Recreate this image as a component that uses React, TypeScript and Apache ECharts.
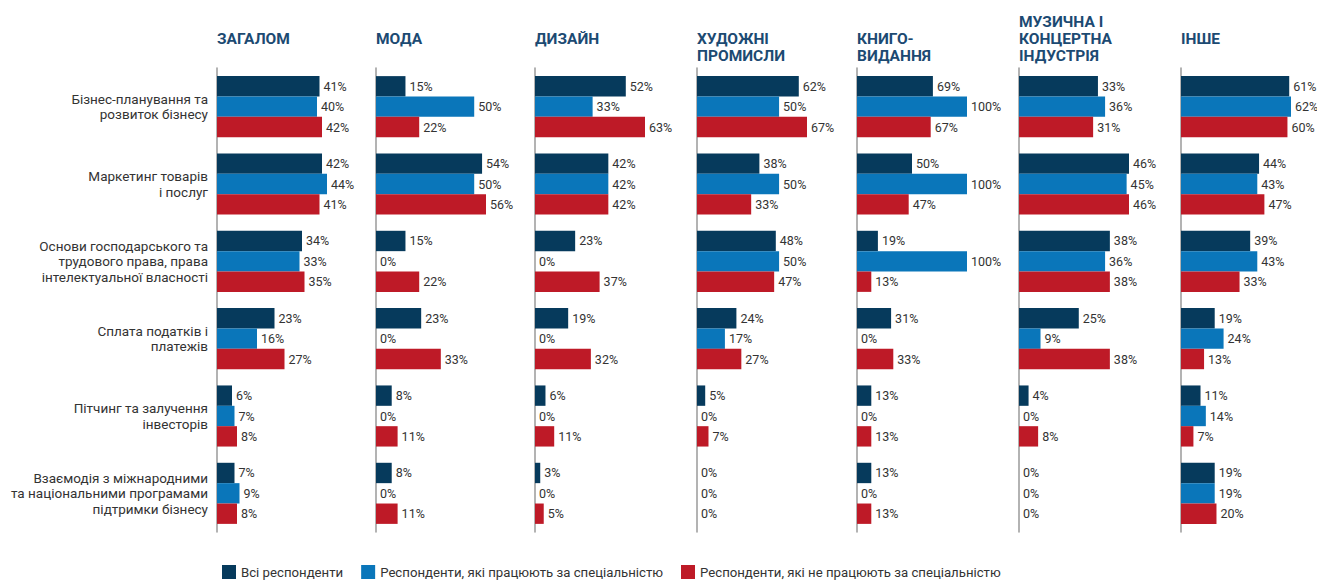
import React, { useEffect, useRef } from "react";
import * as echarts from "echarts";

const categories = [
  "Бізнес-планування та\nрозвиток бізнесу",
  "Маркетинг товарів\nі послуг",
  "Основи господарського та\nтрудового права, права\nінтелектуальної власності",
  "Сплата податків і\nплатежів",
  "Пітчинг та залучення\nінвесторів",
  "Взаємодія з міжнародними\nта національними програмами\nпідтримки бізнесу",
];

const seriesNames = [
  "Всі респонденти",
  "Респонденти, які працюють за спеціальністю",
  "Респонденти, які не працюють за спеціальністю",
];

const panelTitles = [
  "ЗАГАЛОМ",
  "МОДА",
  "ДИЗАЙН",
  "ХУДОЖНІ\nПРОМИСЛИ",
  "КНИГО-\nВИДАННЯ",
  "МУЗИЧНА І\nКОНЦЕРТНА\nІНДУСТРІЯ",
  "ІНШЕ",
];

const allResp = [
  [41, 42, 34, 23, 6, 7],
  [15, 54, 15, 23, 8, 8],
  [52, 42, 23, 19, 6, 3],
  [62, 38, 48, 24, 5, 0],
  [69, 50, 19, 31, 13, 13],
  [33, 46, 38, 25, 4, 0],
  [61, 44, 39, 19, 11, 19],
];
const specResp = [
  [40, 44, 33, 16, 7, 9],
  [50, 50, 0, 0, 0, 0],
  [33, 42, 0, 0, 0, 0],
  [50, 50, 50, 17, 0, 0],
  [100, 100, 100, 0, 0, 0],
  [36, 45, 36, 9, 0, 0],
  [62, 43, 43, 24, 14, 19],
];
const nonSpecResp = [
  [42, 41, 35, 27, 8, 8],
  [22, 56, 22, 33, 11, 11],
  [63, 42, 37, 32, 11, 5],
  [67, 33, 47, 27, 7, 0],
  [67, 47, 13, 33, 13, 13],
  [31, 46, 38, 38, 8, 0],
  [60, 47, 33, 13, 7, 20],
];

const colors = ["#063a5c", "#0a76ba", "#be1a27"];
const panelLeft = [217, 376, 535, 697, 857, 1019, 1181];
const FONT = "Roboto, 'Noto Sans', sans-serif";

export default function App() {
  const ref = useRef<HTMLDivElement>(null);
  useEffect(() => {
    if (!ref.current) return;
    const chart = echarts.init(ref.current, null, { renderer: "svg" });
    const grids: any[] = [];
    const xAxes: any[] = [];
    const yAxes: any[] = [];
    const series: any[] = [];
    const titles: any[] = [];
    const groups = [allResp, specResp, nonSpecResp];
    panelTitles.forEach((t, i) => {
      grids.push({ left: panelLeft[i], top: 68, width: 110, height: 464 });
      const mx = Math.max(...allResp[i], ...specResp[i], ...nonSpecResp[i]);
      xAxes.push({
        type: "value",
        gridIndex: i,
        min: 0,
        max: mx,
        show: false,
      });
      yAxes.push({
        type: "category",
        gridIndex: i,
        data: categories,
        inverse: true,
        axisLine: { show: true, lineStyle: { color: "#9a9a9a", width: 1.5 } },
        axisTick: { show: false },
        axisLabel: {
          show: i === 0,
          fontFamily: FONT,
          fontSize: 13.5,
          color: "#333",
          lineHeight: 15.5,
          margin: 9,
          align: "right",
        },
      });
      const lines = t.split("\n").length;
      titles.push({
        text: t,
        left: panelLeft[i],
        top: lines === 3 ? 13 : 30,
        padding: 0,
        textStyle: {
          fontFamily: FONT,
          fontWeight: "bold",
          fontSize: 15.5,
          lineHeight: 17,
          color: "#1c4a72",
        },
      });
      groups.forEach((g, s) => {
        series.push({
          type: "bar",
          name: seriesNames[s],
          xAxisIndex: i,
          yAxisIndex: i,
          data: g[i],
          barGap: "0%",
          barCategoryGap: "21%",
          itemStyle: { color: colors[s] },
          label: {
            show: true,
            position: "right",
            distance: 4,
            formatter: "{c}%",
            fontFamily: FONT,
            fontSize: 12.5,
            color: "#333",
          },
        });
      });
    });
    chart.setOption({
      animation: false,
      backgroundColor: "#fff",
      title: titles,
      grid: grids,
      xAxis: xAxes,
      yAxis: yAxes,
      series,
      legend: {
        data: seriesNames,
        left: 222,
        top: 565,
        padding: 0,
        itemWidth: 14,
        itemHeight: 14,
        itemGap: 18,
        icon: "rect",
        textStyle: { fontFamily: FONT, fontSize: 13.2, color: "#333" },
      },
    });
    return () => chart.dispose();
  }, []);
  return (
    <div
      ref={ref}
      style={{ position: "fixed", left: 0, top: 0, width: 1317, height: 581 }}
    />
  );
}
